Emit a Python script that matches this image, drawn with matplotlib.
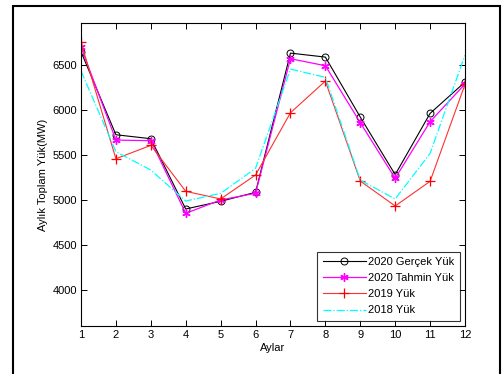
import matplotlib
matplotlib.use("Agg")
import matplotlib.pyplot as plt
from matplotlib.patches import Rectangle

plt.rcParams['font.family'] = ['Liberation Sans', 'DejaVu Sans']
plt.rcParams['font.size'] = 8

months = list(range(1, 13))
gercek_2020 = [6645, 5723, 5679, 4899, 4984, 5084, 6629, 6585, 5919, 5280, 5960, 6308]
tahmin_2020 = [6696, 5664, 5657, 4851, 4999, 5073, 6567, 6489, 5857, 5239, 5868, 6286]
yuk_2019 = [6748, 5457, 5605, 5095, 5010, 5276, 5967, 6319, 5209, 4932, 5206, 6282]
yuk_2018 = [6430, 5535, 5331, 4987, 5073, 5350, 6452, 6360, 5220, 5010, 5516, 6607]
yticks = [4000, 4500, 5000, 5500, 6000, 6500]

fig = plt.figure(figsize=(5.03, 3.74), dpi=100)
ax = fig.add_axes([81/503, 1-326/374, (465-81)/503, (326-23.3)/374])

asterisk = (6, 2, 0)
ax.plot(months, gercek_2020, color='black', lw=0.8, marker='o', ms=5,
        mfc='none', mec='black', mew=0.7, label='2020 Gerçek Yük')
ax.plot(months, tahmin_2020, color='#ff00ff', lw=0.9, marker=asterisk, ms=6,
        mec='#ff00ff', mew=1.0, label='2020 Tahmin Yük')
ax.plot(months, yuk_2019, color='#ff3030', lw=0.8, marker='+', ms=6.5,
        mew=0.9, mec='#ff0000', label='2019 Yük')
ax.plot(months, yuk_2018, color='#00ffff', lw=0.9, ls='-.', label='2018 Yük')

ax.set_xlim(1, 12)
ax.set_ylim(3600, 6960)
ax.set_xticks(months)
ax.set_yticks(yticks)
ax.tick_params(direction='in', top=True, right=True, length=4, width=0.7,
               labelsize=8, pad=3)
for s in ax.spines.values():
    s.set_linewidth(0.8)
ax.set_xlabel('Aylar', fontsize=8, labelpad=2)
ax.set_ylabel('Aylık Toplam Yük(MW)', fontsize=8, labelpad=3)

leg = ax.legend(loc='lower right', bbox_to_anchor=(1 - 5/384, 5/302),
                borderaxespad=0, fontsize=8,
                frameon=True, fancybox=False, edgecolor='black',
                borderpad=0.5, labelspacing=0.55, handlelength=3.9,
                handletextpad=0.2)
leg.get_frame().set_linewidth(0.8)

fig.patches.append(Rectangle((13/503, -0.3), (500-13)/503, 1.3 - 6/374,
                             transform=fig.transFigure, fill=False,
                             edgecolor='black', lw=1.5))

fig.savefig('out.png', dpi=100)
